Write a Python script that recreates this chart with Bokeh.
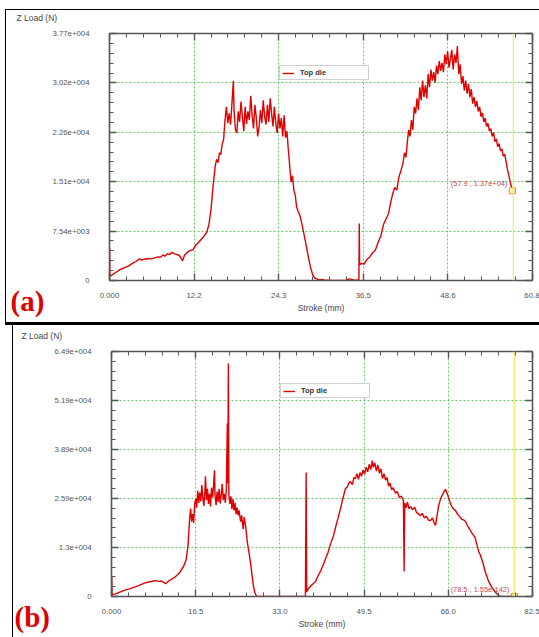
from bokeh.plotting import figure
from bokeh.models import (Range1d, LinearAxis, FixedTicker, Span, Label, Legend,
                          LegendItem, Div, Spacer, ColumnDataSource)
from bokeh.layouts import column, row
from bokeh.embed import file_html
from bokeh.resources import INLINE

# ---------------- data: panel (a) ----------------
stroke_a = [0.0, 0.02, 0.05, 0.1, 0.3, 0.6, 1.0, 1.5, 2.0, 2.7, 3.3, 3.8, 4.3, 4.6, 5.0, 5.5,
            6.0, 6.5, 7.0, 7.3, 7.7, 8.0, 8.3, 8.6, 9.0, 9.3, 9.6, 10.0, 10.3, 10.5, 10.8,
            11.2, 11.6, 12.0, 12.4, 12.8, 13.2, 13.6, 14.0, 14.3, 14.6, 14.9, 15.2, 15.4,
            15.6, 15.8, 16.0, 16.2, 16.4, 16.6, 16.8, 17.0, 17.2, 17.4, 17.6, 17.8, 17.9,
            18.1, 18.3, 18.5, 18.7, 18.9, 19.1, 19.3, 19.5, 19.7, 19.9, 20.1, 20.3, 20.5,
            20.7, 20.9, 21.1, 21.3, 21.5, 21.7, 21.9, 22.1, 22.3, 22.5, 22.7, 22.9, 23.1,
            23.3, 23.5, 23.7, 23.9, 24.1, 24.3, 24.5, 24.7, 24.9, 25.1, 25.3, 25.5, 25.7,
            25.9, 26.1, 26.3, 26.5, 26.7, 26.9, 27.1, 27.4, 27.7, 28.0, 28.3, 28.6, 28.9,
            29.2, 29.5, 29.8, 30.2, 30.6, 31.0, 32.0, 33.0, 34.0, 34.4, 34.8, 35.2, 35.6,
            35.85, 35.9, 35.95, 36.2, 36.6, 37.0, 37.4, 37.8, 38.2, 38.6, 39.0, 39.4, 39.8,
            40.1, 40.4, 40.7, 41.0, 41.3, 41.6, 41.9, 42.2, 42.4, 42.6, 42.8, 43.0, 43.2,
            43.4, 43.6, 43.8, 44.0, 44.2, 44.4, 44.6, 44.8, 45.0, 45.2, 45.4, 45.6, 45.8,
            46.0, 46.2, 46.4, 46.6, 46.8, 47.0, 47.2, 47.4, 47.6, 47.8, 48.0, 48.2, 48.4,
            48.6, 48.8, 49.0, 49.2, 49.4, 49.6, 49.8, 50.0, 50.2, 50.4, 50.6, 50.8, 51.0,
            51.2, 51.4, 51.6, 51.8, 52.0, 52.2, 52.4, 52.6, 52.8, 53.0, 53.2, 53.4, 53.6,
            53.8, 54.0, 54.2, 54.4, 54.6, 54.8, 55.0, 55.2, 55.4, 55.6, 55.8, 56.0, 56.2,
            56.4, 56.6, 56.8, 57.0, 57.2, 57.4, 57.6, 57.8, 57.9]
load_a = [0, 5000, 1200, 700, 800, 1000, 1300, 1650, 1900, 2200, 2600, 2900, 3300, 3100, 3250, 3350,
          3300, 3450, 3600, 3550, 3900, 3700, 4100, 3950, 4300, 4100, 4000, 3850, 3400, 3000, 3900,
          4300, 4600, 4700, 5400, 5800, 6300, 6800, 7400, 8600, 11000, 14500, 17500, 18500,
          18000, 19500, 19200, 20800, 21500, 24500, 26500, 24000, 25500, 23800, 27000, 30500, 26000,
          23000, 22500, 25800, 24200, 27300, 25000, 22800, 26500, 23900, 25800, 24500, 28200, 25200,
          23200, 26800, 24800, 22000, 23500, 26000, 24000, 27500, 25000, 23800, 26800, 24200, 27800,
          25500, 23500, 26500, 24000, 22500, 25500, 23200, 24800, 22000, 25200, 21800, 22800, 20000,
          17500, 15000, 16000, 13800, 13000, 11200, 10600, 9800, 8400, 6800, 5200, 3500, 2000,
          900, 350, 250, 100, 150, 30, 10, 0, 20, 250, 180, 60, 80,
          100, 8700, 2400, 2600, 2500, 3200, 3600, 4200, 4600, 5800, 6800, 8600, 9500,
          10200, 11800, 13200, 14200, 13800, 15800, 16800, 18000, 19500, 18800, 21000, 23000, 22000,
          24500, 23000, 26500, 25500, 27800, 26000, 29500, 27500, 30500, 28000, 29800, 27800, 31500,
          29500, 32200, 30500, 31800, 30200, 32800, 31500, 33500, 32000, 33200, 31800, 34500, 33000,
          35000, 32500, 33800, 35200, 32200, 34500, 33200, 35800, 31500, 33000, 30000, 31200, 29000,
          30500, 28500, 30000, 28000, 29200, 27000, 28000, 26500, 27400, 25800, 26500, 25000, 25600,
          24200, 24800, 23500, 24000, 22800, 23200, 22000, 22600, 21200, 21600, 20400, 20900, 19800,
          20100, 19000, 19300, 18200, 17000, 16000, 15000, 14200, 13700]
x_ticks_a = [0, 12.16, 24.32, 36.48, 48.64, 60.8]
x_labels_a = ["0.000", "12.2", "24.3", "36.5", "48.6", "60.8"]
y_ticks_a = [0, 7540, 15080, 22620, 30160, 37700]
y_labels_a = ["0", "7.54e+003", "1.51e+004", "2.26e+004", "3.02e+004", "3.77e+004"]
cursor_line_a = 58.05
cursor_a = (57.9, 13700)
cursor_text_a = "(57.9 , 1.37e+04)"

# ---------------- data: panel (b) ----------------
stroke_b = [0.0, 0.05, 0.1, 0.3, 0.8, 1.5, 2.5, 3.7, 4.5, 5.5, 6.6, 7.5, 8.6, 9.2, 9.8, 10.6,
            11.2, 12.5, 13.3, 14.1, 14.6, 15.0, 15.3, 15.5, 15.7, 15.9, 16.1, 16.3, 16.5, 16.7,
            16.9, 17.1, 17.3, 17.5, 17.7, 17.9, 18.1, 18.3, 18.42, 18.6, 18.8, 19.0, 19.2, 19.4,
            19.6, 19.8, 20.0, 20.18, 20.3, 20.5, 20.7, 20.9, 21.1, 21.3, 21.5, 21.7, 21.9, 22.1,
            22.3, 22.5, 22.7, 22.8, 22.9, 23.0, 23.2, 23.4, 23.6, 23.8, 24.0, 24.2, 24.4, 24.6,
            24.8, 25.0, 25.3, 25.5, 25.8, 26.0, 26.3, 26.6, 26.9, 27.2, 27.5, 27.8, 28.1, 28.4,
            29.0, 32.0, 35.0, 38.0, 38.15, 38.25, 38.6, 39.2, 39.98, 40.5, 41.0, 41.5, 41.94,
            42.4, 42.9, 43.5, 44.0, 44.4, 44.88, 45.2, 45.5, 45.86, 46.2, 46.5, 46.84, 47.2,
            47.5, 47.8, 48.1, 48.4, 48.7, 49.0, 49.3, 49.6, 49.9, 50.2, 50.5, 50.8, 51.1, 51.3,
            51.6, 51.9, 52.2, 52.5, 52.8, 53.1, 53.4, 53.7, 54.0, 54.3, 54.6, 54.9, 55.2, 55.65,
            56.0, 56.4, 56.8, 57.2, 57.35, 57.45, 57.7, 58.0, 58.3, 58.6, 59.0, 59.4, 59.8,
            60.2, 60.55, 60.9, 61.3, 61.7, 62.1, 62.5, 62.9, 63.2, 63.5, 63.8, 64.1, 64.5,
            64.8, 65.1, 65.45, 65.8, 66.2, 66.6, 67.0, 67.4, 67.8, 68.2, 68.6, 69.0, 69.4,
            69.8, 70.2, 70.6, 71.0, 71.3, 71.7, 72.0, 72.3, 72.8, 73.3, 73.9, 74.5, 75.2,
            75.8, 76.3, 78.5]
load_b = [0, 5300, 800, 500, 700, 1100, 1600, 2100, 2500, 3000, 3600, 3900, 4200, 4000, 4100, 3400,
          4100, 5200, 6200, 7900, 9600, 13500, 20500, 23300, 19800, 21800, 19500, 24500, 25900, 23500,
          28000, 24800, 27500, 25200, 29500, 26000, 24000, 27800, 31800, 25500, 28500, 24500, 27200, 23800,
          28800, 26200, 29200, 33400, 26500, 24200, 27800, 25000, 28500, 24600, 26800, 29800, 25500, 27200,
          24800, 28200, 45800, 30000, 61700, 27000, 24500, 26500, 23200, 25800, 22800, 24800, 21800, 23500,
          21500, 22800, 19800, 21500, 17800, 21000, 18500, 14500, 12000, 9300, 6200, 2900, 1000, 100,
          0, 0, 0, 0, 32800, 1200, 2100, 3000, 4000, 5500, 6800, 8400, 10000,
          11500, 13800, 16100, 18800, 20800, 23300, 25200, 26800, 28600, 29000, 30000, 30400, 29600,
          31500, 31200, 32500, 31000, 32800, 31800, 33500, 32400, 34200, 33000, 35000, 33600, 36000, 34200,
          35400, 33200, 34800, 32600, 33800, 31200, 32500, 30800, 31500, 29200, 30000, 28200, 28800, 27300,
          27800, 26200, 26600, 25400, 6600, 24800, 23500, 25000, 23200, 23800, 23000, 23600, 22200,
          21800, 21400, 22000, 20800, 21200, 20200, 20100, 20800, 19600, 18800, 21500, 24000, 25900,
          26800, 27600, 28400, 27200, 25500, 24000, 23200, 22800, 21800, 21200, 20500, 20300, 19800,
          18600, 17800, 16800, 16100, 15400, 13200, 11800, 10900, 8800, 6300, 4000, 2500, 1200,
          300, 0, 0]
x_ticks_b = [0, 16.5, 33.0, 49.5, 66.0, 82.5]
x_labels_b = ["0.000", "16.5", "33.0", "49.5", "66.0", "82.5"]
y_ticks_b = [0, 12970, 25940, 38910, 51880, 64850]
y_labels_b = ["0", "1.3e+004", "2.59e+004", "3.89e+004", "5.19e+004", "6.49e+004"]
cursor_line_b = 78.95
cursor_b = (78.95, 0)
cursor_text_b = "(78.5 , 1.55e-142)"

series_name = "Top die"
x_title = "Stroke (mm)"
y_title = "Z Load (N)"
tags = ["(a)", "(b)"]

FONT = "Liberation Sans"
AXIS_C = "#555555"
RED = "#e00000"


def minor_of(ticks):
    out = []
    for a, b in zip(ticks[:-1], ticks[1:]):
        out += [a + (b - a) * k / 5.0 for k in range(1, 5)]
    return out


def style_axis(ax, ticks, labels, show, standoff):
    ax.ticker = FixedTicker(ticks=ticks, minor_ticks=minor_of(ticks))
    ax.axis_line_color = AXIS_C
    ax.axis_line_width = 1.6
    ax.major_tick_line_color = AXIS_C
    ax.major_tick_line_width = 1.4
    ax.minor_tick_line_color = AXIS_C
    ax.major_tick_in = 7
    ax.major_tick_out = 0
    ax.minor_tick_in = 4
    ax.minor_tick_out = 0
    if show:
        ax.major_label_overrides = {t: l for t, l in zip(ticks, labels)}
        ax.major_label_text_font = FONT
        ax.major_label_text_font_size = "7.8px"
        ax.major_label_text_color = "#555555"
        ax.major_label_standoff = standoff
    else:
        ax.major_label_text_color = None
        ax.major_label_text_font_size = "1px"
        ax.major_label_standoff = 0


def panel(width, height, mbl, mbt, mbb, stroke, load, xt, xl, yt, yl, cur_x, cur_pt,
          cur_txt, legend_loc):
    p = figure(width=width, height=height, x_range=Range1d(xt[0], xt[-1]),
               y_range=Range1d(yt[0], yt[-1]), output_backend="svg", toolbar_location=None,
               x_axis_location=None, y_axis_location=None,
               min_border_left=mbl, min_border_right=7, min_border_top=mbt,
               min_border_bottom=mbb, outline_line_color=None,
               background_fill_color="white", border_fill_color="white")
    bottom = LinearAxis(axis_label=x_title)
    style_axis(bottom, xt, xl, True, 12)
    bottom.axis_label_text_font = FONT
    bottom.axis_label_text_font_size = "8.5px"
    bottom.axis_label_text_font_style = "normal"
    bottom.axis_label_text_color = "#444444"
    bottom.axis_label_standoff = 2
    left = LinearAxis()
    style_axis(left, yt, yl, True, 20)
    top = LinearAxis()
    style_axis(top, xt, xl, False, 0)
    right = LinearAxis()
    style_axis(right, yt, yl, False, 0)
    p.add_layout(bottom, "below")
    p.add_layout(left, "left")
    p.add_layout(top, "above")
    p.add_layout(right, "right")

    p.xgrid.ticker = FixedTicker(ticks=xt[1:-1])
    p.ygrid.ticker = FixedTicker(ticks=yt[1:-1])
    for g in (p.xgrid, p.ygrid):
        g.grid_line_color = "#66c866"
        g.grid_line_dash = "2 2"
        g.grid_line_width = 1

    src = ColumnDataSource(dict(stroke=stroke, load=load))
    r = p.line(x="stroke", y="load", source=src, line_color=RED, line_width=1.4)

    p.add_layout(Span(location=cur_x, dimension="height", line_color="#eeee66",
                      line_width=1.3))
    p.scatter([cur_pt[0]], [cur_pt[1]], marker="square", size=6, line_color="#e0a030",
              fill_color="#fff4c0", line_width=1.2)
    p.add_layout(Label(x=cur_pt[0], y=cur_pt[1], text=cur_txt, x_offset=-5, y_offset=7,
                       text_align="right", text_baseline="middle", text_font=FONT,
                       text_font_size="7.4px", text_color="#c04848"))

    leg = Legend(items=[LegendItem(label=series_name, renderers=[r])], location=legend_loc,
                 label_text_font=FONT, label_text_font_size="7.5px",
                 label_text_font_style="bold", label_text_color="#333333",
                 glyph_width=12, glyph_height=8, label_standoff=6, label_height=8,
                 label_width=66, padding=2, spacing=0, margin=0,
                 border_line_color="#a0a0a0", border_line_width=1,
                 background_fill_color="white", background_fill_alpha=1.0)
    p.add_layout(leg)
    return p


def text_canvas(w, h, text, left, middle, size, serif=False):
    """A plain canvas (frame = whole canvas) holding one text; left/middle in px
    from the canvas' left edge and top edge."""
    c = figure(width=w, height=h, x_range=Range1d(0, w), y_range=Range1d(0, h),
               output_backend="svg", toolbar_location=None, x_axis_location=None,
               y_axis_location=None, min_border=0, outline_line_color=None,
               background_fill_color="white", border_fill_color="white")
    c.xgrid.visible = False
    c.ygrid.visible = False
    if serif:
        lab = Label(x=left, y=h - middle, text=text, text_align="left",
                    text_baseline="middle", text_font="Liberation Serif",
                    text_font_style="bold", text_font_size=size, text_color=RED)
    else:
        lab = Label(x=left, y=h - middle, text=text, text_align="left",
                    text_baseline="middle", text_font=FONT, text_font_size=size,
                    text_color="#444444")
    c.add_layout(lab)
    return c


def gap(w, h):
    return Spacer(width=w, height=h, margin=0)


def bar(w, h):
    return Div(width=w, height=h, margin=0, styles={"background-color": "#000000"})


# panel (a): plot canvas x 49..539, y 27..322 ; frame 107..532 x 33..280
pa = panel(490, 295, 58, 6, 42, stroke_a, load_a, x_ticks_a, x_labels_a, y_ticks_a,
           y_labels_a, cursor_line_a, cursor_a, cursor_text_a, (170, 200))
top_a = text_canvas(533, 17, y_title, 10, 7, "8.5px")
tag_a = column(gap(43, 258), text_canvas(43, 37, tags[0], 4, 15, "29px", serif=True),
               spacing=0)

# panel (b): plot canvas x 50..539, y 345..637 ; frame 111..532 x 351..596
pb = panel(489, 292, 61, 6, 41, stroke_b, load_b, x_ticks_b, x_labels_b, y_ticks_b,
           y_labels_b, cursor_line_b, cursor_b, cursor_text_b, (169, 198))
top_b = text_canvas(526, 20, y_title, 8, 10, "8.5px")
tag_b = column(gap(37, 254), text_canvas(37, 38, tags[1], 1, 17, "29px", serif=True),
               spacing=0)

block_a = column(top_a, row(tag_a, pa, spacing=0), spacing=0)
block_b = column(top_b, row(tag_b, pb, spacing=0), spacing=0)

layout = column(
    gap(539, 9),
    row(gap(5, 1), bar(534, 1), spacing=0),
    row(gap(5, 312), bar(1, 312), block_a, spacing=0),
    row(gap(5, 3), bar(534, 3), spacing=0),
    row(gap(12, 312), bar(1, 312), block_b, spacing=0),
    spacing=0,
)

open("out.html", "w").write(file_html(layout, INLINE))
